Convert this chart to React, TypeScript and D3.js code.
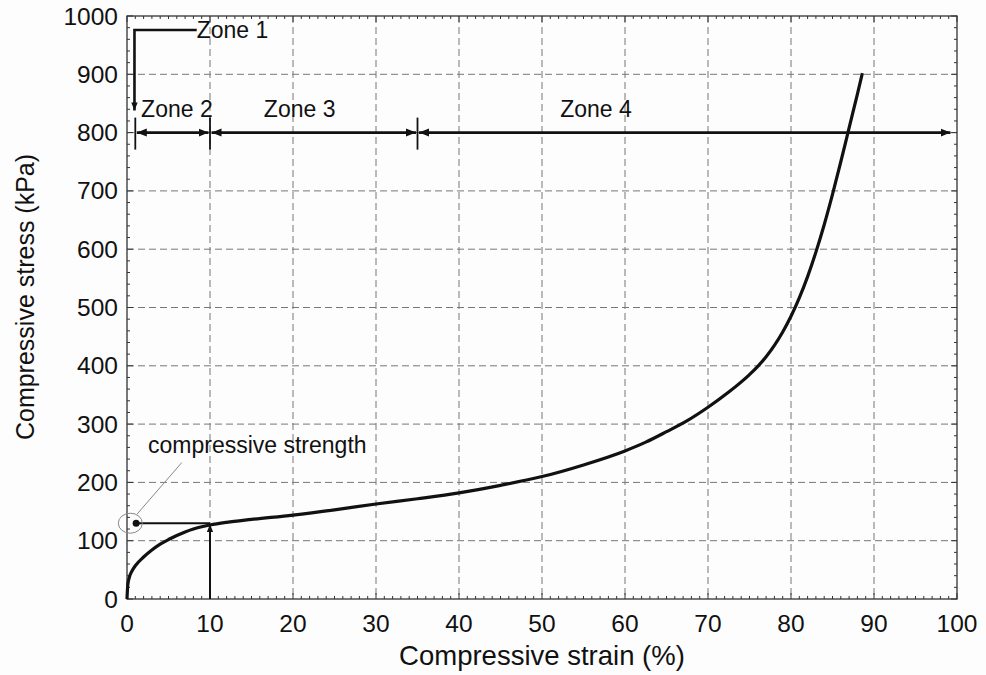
import React from "react";
import * as d3 from "d3";

// Stress-strain curve (strain %, stress kPa)
const strain = [0, 0.1, 0.3, 0.6, 1, 2, 3, 4, 5, 6, 7, 8, 9, 10, 12, 15, 20, 25, 30, 35, 40, 45, 50, 55, 60, 62.5, 65, 67.5, 70, 72.5, 75, 76, 77, 78, 79, 80, 81, 82, 83, 84, 85, 86, 87, 88, 88.6];
const stress = [0, 25, 38, 48, 57, 72, 84, 94, 102, 109, 115, 120, 124, 127, 131.5, 136.5, 144, 153, 163, 172, 182, 195, 210, 230, 254, 269, 287, 306, 329, 355, 385, 399, 415.5, 435, 458, 485, 516.5, 553, 595, 642, 694, 750, 808, 866, 902];

const xTicks = [0, 10, 20, 30, 40, 50, 60, 70, 80, 90, 100];
const yTicks = [0, 100, 200, 300, 400, 500, 600, 700, 800, 900, 1000];

// Zone boundaries (strain %) and labels
const zoneBounds = [1, 10, 35, 99.4];
const zoneLabels = ["Zone 2", "Zone 3", "Zone 4"];
const zoneLabelX = [1.7, 20.8, 56.5];
const zoneY = 800;

const strengthValue = 130;
const strengthStrain = 10;

const W = 986, H = 675;
const L = 127, R = 957, T = 16, B = 599;
const FONT = "'Liberation Sans', Arial, Helvetica, sans-serif";

export default function App() {
  const x = d3.scaleLinear().domain([0, 100]).range([L, R]);
  const y = d3.scaleLinear().domain([0, 1000]).range([B, T]);
  const data = strain.map((s, i) => [s, stress[i]] as [number, number]);
  const line = d3.line<[number, number]>().x(d => x(d[0])).y(d => y(d[1])).curve(d3.curveMonotoneX);

  const xMinor = d3.range(0, 101, 1);
  const yMinor = d3.range(0, 1001, 20);

  const gridColor = "#777";
  return (
    <svg width={W} height={H} style={{ position: "absolute", left: 0, top: 0, background: "#fdfdfd" }} fontFamily={FONT}>
      <defs>
        <marker id="arr" viewBox="0 0 10 10" refX="10" refY="5" markerWidth="10" markerHeight="10" markerUnits="userSpaceOnUse" orient="auto-start-reverse">
          <path d="M0,1 L10,5 L0,9 Z" fill="#111" />
        </marker>
        <marker id="arr2" viewBox="0 0 10 10" refX="10" refY="5" markerWidth="8" markerHeight="8" markerUnits="userSpaceOnUse" orient="auto">
          <path d="M0,1 L10,5 L0,9 Z" fill="#111" />
        </marker>
      </defs>
      <rect x={0} y={0} width={W} height={H} fill="#fdfdfd" />
      {/* grid */}
      {xTicks.slice(1, -1).map(t => (
        <line key={"gx" + t} x1={x(t)} x2={x(t)} y1={T} y2={B} stroke={gridColor} strokeWidth={1} strokeDasharray="7,4" />
      ))}
      {yTicks.slice(1, -1).map(t => (
        <line key={"gy" + t} x1={L} x2={R} y1={y(t)} y2={y(t)} stroke={gridColor} strokeWidth={1} strokeDasharray="7,4" />
      ))}
      {/* minor ticks */}
      {xMinor.map(t => (
        <g key={"mx" + t}>
          <line x1={x(t)} x2={x(t)} y1={B} y2={B - (t % 10 === 0 ? 6 : 3)} stroke="#333" strokeWidth={1} />
          <line x1={x(t)} x2={x(t)} y1={T} y2={T + (t % 10 === 0 ? 6 : 3)} stroke="#333" strokeWidth={1} />
        </g>
      ))}
      {yMinor.map(t => (
        <g key={"my" + t}>
          <line x1={L} x2={L + (t % 100 === 0 ? 6 : 3)} y1={y(t)} y2={y(t)} stroke="#333" strokeWidth={1} />
          <line x1={R} x2={R - (t % 100 === 0 ? 6 : 3)} y1={y(t)} y2={y(t)} stroke="#333" strokeWidth={1} />
        </g>
      ))}
      <rect x={L} y={T} width={R - L} height={B - T} fill="none" stroke="#333" strokeWidth={1.3} />

      {/* tick labels */}
      {xTicks.map(t => (
        <text key={"tx" + t} x={x(t)} y={632} fontSize={24.5} textAnchor="middle" fill="#111">{t}</text>
      ))}
      {yTicks.map(t => (
        <text key={"ty" + t} x={118} y={y(t) + 8.5} fontSize={24.5} textAnchor="end" fill="#111">{t}</text>
      ))}
      <text x={(L + R) / 2} y={665} fontSize={27.5} textAnchor="middle" fill="#111">Compressive strain (%)</text>
      <text transform={`translate(34,${297}) rotate(-90)`} fontSize={25} textAnchor="middle" fill="#111">Compressive stress (kPa)</text>

      {/* curve */}
      <path d={line(data) || ""} fill="none" stroke="#111" strokeWidth={3.2} />

      {/* compressive strength */}
      <line x1={x(1.1)} x2={x(strengthStrain)} y1={y(strengthValue)} y2={y(strengthValue)} stroke="#111" strokeWidth={2} />
      <circle cx={x(1.1)} cy={y(strengthValue)} r={3.5} fill="#111" />
      <line x1={x(strengthStrain)} x2={x(strengthStrain)} y1={y(0)} y2={y(strengthValue) + 1} stroke="#111" strokeWidth={2} markerEnd="url(#arr2)" />
      <ellipse cx={x(0.4)} cy={y(strengthValue)} rx={12} ry={10} fill="none" stroke="#888" strokeWidth={1} />
      <line x1={x(1.2)} y1={y(strengthValue) - 9} x2={x(6.6)} y2={y(234)} stroke="#888" strokeWidth={1} />
      <text x={148} y={453} fontSize={23} fill="#111">compressive strength</text>

      {/* zones */}
      {zoneBounds.slice(0, 3).map(b => (
        <line key={"zb" + b} x1={x(b)} x2={x(b)} y1={y(zoneY) - 15} y2={y(zoneY) + 17} stroke="#111" strokeWidth={1.8} />
      ))}
      {zoneLabels.map((lab, i) => (
        <g key={lab}>
          <line x1={x(zoneBounds[i]) + 1.5} x2={x(zoneBounds[i + 1]) - 1.5} y1={y(zoneY)} y2={y(zoneY)} stroke="#111" strokeWidth={2.6}
            markerStart="url(#arr)" markerEnd="url(#arr)" />
          <text x={x(zoneLabelX[i])} y={y(zoneY) - 16} fontSize={23} textAnchor={i === 0 ? "start" : "middle"} fill="#111">{lab}</text>
        </g>
      ))}
      {/* Zone 1 */}
      <polyline points={`${x(8.4)},${y(976)} ${x(0.9)},${y(976)} ${x(0.9)},${y(838)}`} fill="none" stroke="#111" strokeWidth={2.6} markerEnd="url(#arr2)" />
      <text x={x(8.4)} y={38} fontSize={23} fill="#111">Zone 1</text>
    </svg>
  );
}
